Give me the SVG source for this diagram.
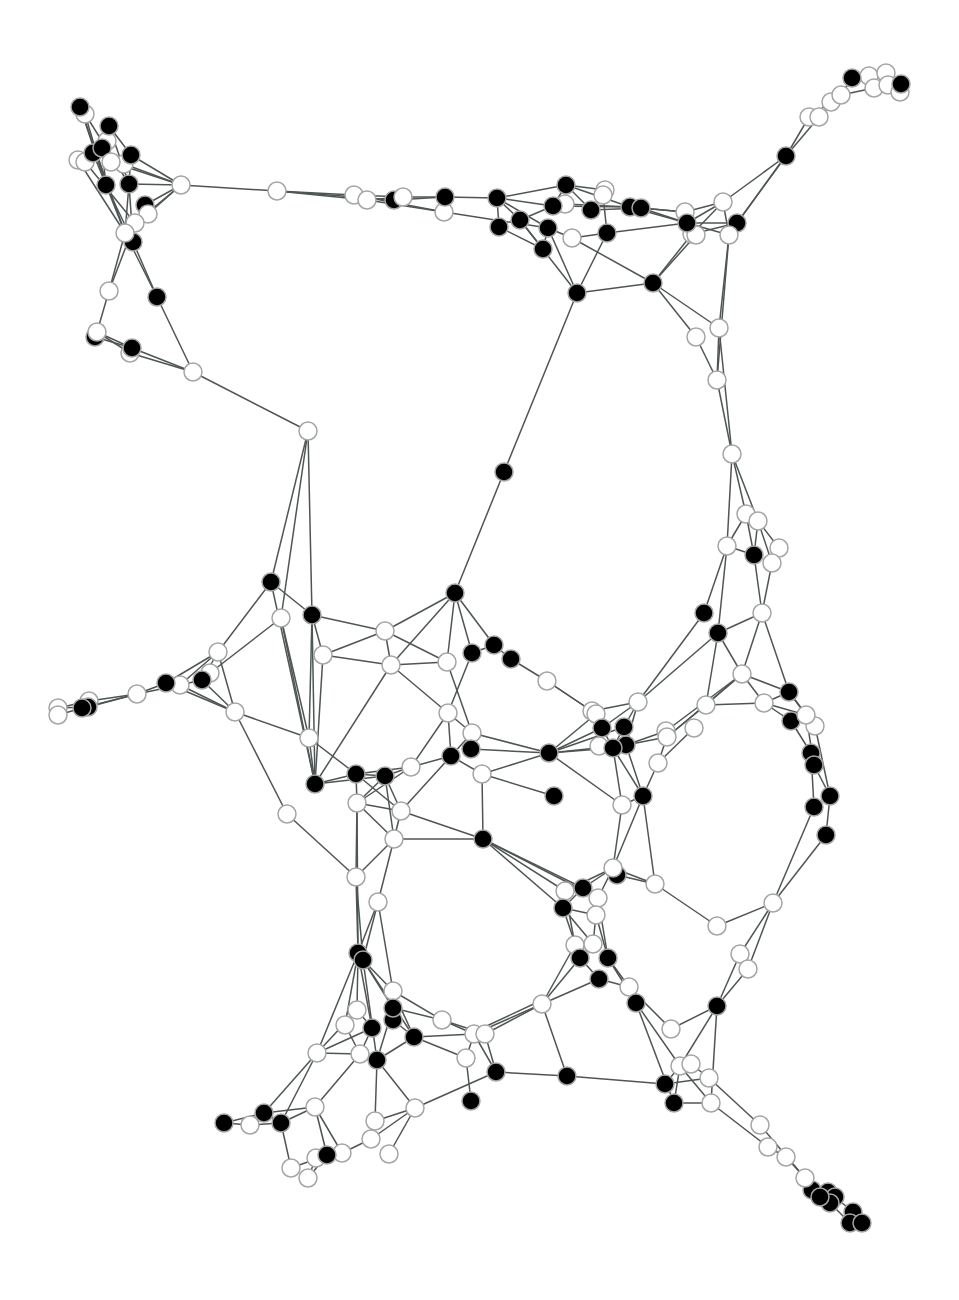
<svg xmlns="http://www.w3.org/2000/svg" width="959" height="1300" viewBox="0 0 959 1300">
<style>
.e path{stroke:#4f5555;stroke-width:1.5;fill:none}
.w circle{fill:#fff;stroke:#a5a5a5;stroke-width:1.5}
.b circle{fill:#000;stroke:#a5a5a5;stroke-width:1.5}
</style>
<rect width="959" height="1300" fill="#fff"/>
<g id="edges" class="e">
<path d="M80 107L106 185"/><path d="M80 107L125 233"/><path d="M85 114L106 185"/><path d="M85 114L129 184"/>
<path d="M109 126L131 155"/><path d="M109 126L129 184"/><path d="M109 126L107 141"/><path d="M93 153L106 185"/>
<path d="M102 148L106 185"/><path d="M78 160L125 233"/><path d="M85 162L135 223"/><path d="M131 155L181 185"/>
<path d="M124 164L181 185"/><path d="M111 162L181 185"/><path d="M129 184L181 185"/><path d="M181 185L145 205"/>
<path d="M181 185L148 214"/><path d="M181 185L135 223"/><path d="M181 185L277 191"/><path d="M277 191L354 195"/>
<path d="M277 191L367 200"/><path d="M277 191L394 200"/><path d="M106 185L133 242"/><path d="M106 185L125 233"/>
<path d="M129 184L125 233"/><path d="M129 184L133 242"/><path d="M131 155L129 184"/><path d="M125 233L109 291"/>
<path d="M135 223L109 291"/><path d="M133 242L157 297"/><path d="M125 233L157 297"/><path d="M109 291L97 332"/>
<path d="M97 332L132 348"/><path d="M95 337L132 348"/><path d="M97 332L130 353"/><path d="M132 348L193 372"/>
<path d="M130 353L193 372"/><path d="M157 297L193 372"/><path d="M193 372L308 431"/>
<path d="M354 195L403 197"/><path d="M367 200L403 197"/><path d="M403 197L445 197"/><path d="M394 200L445 197"/>
<path d="M445 197L497 198"/><path d="M354 195L444 212"/><path d="M367 200L444 212"/><path d="M444 212L548 228"/>
<path d="M497 198L566 185"/><path d="M497 198L499 227"/><path d="M497 198L520 220"/><path d="M497 198L548 228"/>
<path d="M497 198L553 206"/><path d="M499 227L543 249"/><path d="M520 220L543 249"/><path d="M520 220L553 206"/>
<path d="M520 220L577 293"/><path d="M548 228L577 293"/><path d="M548 228L572 238"/><path d="M566 185L591 210"/>
<path d="M566 185L605 190"/><path d="M566 185L630 207"/><path d="M566 185L553 206"/><path d="M565 204L630 207"/>
<path d="M553 206L630 207"/><path d="M591 210L605 190"/><path d="M591 210L641 208"/><path d="M607 233L603 195"/>
<path d="M607 233L572 238"/><path d="M607 233L577 293"/><path d="M572 238L653 283"/><path d="M577 293L653 283"/>
<path d="M607 233L687 223"/><path d="M630 207L687 223"/><path d="M641 208L685 212"/><path d="M641 208L687 223"/>
<path d="M630 207L685 212"/><path d="M543 249L548 228"/>
<path d="M685 212L723 202"/><path d="M687 223L723 202"/><path d="M692 234L723 202"/><path d="M723 202L729 235"/>
<path d="M723 202L786 156"/><path d="M737 223L786 156"/><path d="M735 226L784 158"/><path d="M687 223L737 223"/>
<path d="M687 223L729 235"/><path d="M692 234L737 223"/><path d="M692 234L653 283"/><path d="M696 235L653 283"/>
<path d="M729 235L719 328"/><path d="M729 235L717 380"/><path d="M786 156L809 117"/><path d="M786 156L819 117"/>
<path d="M809 117L831 102"/><path d="M819 117L841 95"/><path d="M831 102L841 95"/><path d="M841 95L852 78"/>
<path d="M841 95L874 88"/><path d="M852 78L869 76"/><path d="M869 76L886 73"/><path d="M886 73L888 85"/>
<path d="M874 88L901 84"/><path d="M888 85L901 84"/><path d="M900 92L901 84"/><path d="M874 88L888 85"/>
<path d="M653 283L719 328"/><path d="M653 283L696 337"/><path d="M719 328L717 380"/><path d="M696 337L717 380"/>
<path d="M719 328L732 454"/><path d="M717 380L732 454"/><path d="M732 454L746 514"/><path d="M732 454L758 521"/>
<path d="M732 454L727 546"/><path d="M746 514L727 546"/><path d="M746 514L754 555"/><path d="M758 521L754 555"/>
<path d="M758 521L779 548"/><path d="M758 521L772 563"/><path d="M727 546L754 555"/><path d="M727 546L704 613"/>
<path d="M727 546L718 633"/><path d="M754 555L762 613"/><path d="M772 563L762 613"/><path d="M779 548L772 563"/>
<path d="M762 613L718 633"/><path d="M762 613L742 674"/><path d="M762 613L789 692"/><path d="M718 633L742 674"/>
<path d="M704 613L638 702"/><path d="M718 633L638 702"/><path d="M718 633L706 705"/><path d="M577 293L504 472"/>
<path d="M504 472L455 593"/>
<path d="M455 593L385 631"/><path d="M455 593L391 665"/><path d="M455 593L447 662"/><path d="M455 593L472 653"/>
<path d="M455 593L494 645"/><path d="M312 615L385 631"/><path d="M323 655L385 631"/><path d="M385 631L447 662"/>
<path d="M385 631L391 665"/><path d="M271 582L312 615"/><path d="M271 582L218 652"/><path d="M271 582L315 784"/>
<path d="M308 431L271 582"/><path d="M308 431L281 618"/><path d="M308 431L312 615"/><path d="M281 618L210 673"/>
<path d="M281 618L309 738"/><path d="M281 618L315 784"/><path d="M312 615L315 784"/><path d="M312 615L309 738"/>
<path d="M312 615L323 655"/><path d="M323 655L391 665"/><path d="M323 655L315 784"/><path d="M218 652L166 683"/>
<path d="M218 652L180 685"/><path d="M218 652L235 712"/><path d="M218 652L202 680"/><path d="M202 680L180 685"/>
<path d="M210 673L202 680"/><path d="M166 683L180 685"/><path d="M166 683L137 694"/><path d="M180 685L137 694"/>
<path d="M137 694L88 707"/><path d="M137 694L89 701"/><path d="M137 694L82 708"/><path d="M88 707L58 708"/>
<path d="M82 708L58 715"/><path d="M89 701L58 708"/><path d="M235 712L202 680"/><path d="M235 712L180 685"/>
<path d="M235 712L166 683"/><path d="M235 712L309 738"/><path d="M235 712L287 814"/><path d="M309 738L315 784"/>
<path d="M309 738L356 774"/><path d="M315 784L356 774"/><path d="M315 784L385 776"/><path d="M315 784L391 665"/>
<path d="M287 814L356 877"/><path d="M391 665L447 662"/><path d="M391 665L448 713"/><path d="M447 662L472 733"/>
<path d="M472 653L448 713"/><path d="M472 653L494 645"/><path d="M494 645L511 659"/><path d="M511 659L547 681"/>
<path d="M547 681L596 714"/><path d="M547 681L592 711"/><path d="M448 713L472 733"/><path d="M448 713L451 756"/>
<path d="M448 713L411 767"/><path d="M472 733L549 753"/><path d="M472 733L451 756"/><path d="M471 749L549 753"/>
<path d="M471 749L472 733"/><path d="M451 756L411 767"/><path d="M451 756L482 774"/><path d="M451 756L401 811"/>
<path d="M411 767L356 774"/><path d="M411 767L357 803"/><path d="M411 767L385 776"/><path d="M356 774L385 776"/>
<path d="M356 774L357 803"/><path d="M356 774L401 811"/><path d="M385 776L401 811"/><path d="M385 776L394 839"/>
<path d="M385 776L357 803"/><path d="M482 774L549 753"/><path d="M482 774L554 796"/><path d="M482 774L483 839"/>
<path d="M549 753L596 714"/><path d="M549 753L602 728"/><path d="M549 753L624 727"/><path d="M549 753L613 748"/>
<path d="M549 753L626 745"/><path d="M549 753L622 805"/><path d="M357 803L401 811"/><path d="M357 803L394 839"/>
<path d="M357 803L356 877"/><path d="M401 811L394 839"/><path d="M401 811L483 839"/><path d="M394 839L483 839"/>
<path d="M394 839L356 877"/><path d="M394 839L378 902"/><path d="M483 839L565 891"/><path d="M483 839L563 908"/>
<path d="M483 839L583 888"/><path d="M483 839L598 898"/><path d="M356 877L358 953"/><path d="M378 902L358 953"/>
<path d="M378 902L363 960"/><path d="M356 877L363 960"/><path d="M357 803L358 953"/>
<path d="M622 805L613 868"/><path d="M622 805L643 796"/><path d="M622 805L613 748"/><path d="M613 868L565 891"/>
<path d="M613 868L583 888"/><path d="M613 868L655 884"/><path d="M617 875L655 884"/><path d="M613 868L598 898"/>
<path d="M583 888L598 898"/><path d="M565 891L563 908"/><path d="M583 888L563 908"/><path d="M563 908L596 915"/>
<path d="M598 898L596 915"/><path d="M638 702L602 728"/><path d="M638 702L624 727"/><path d="M638 702L592 711"/>
<path d="M638 702L626 745"/><path d="M706 705L742 674"/><path d="M706 705L764 703"/><path d="M742 674L789 692"/>
<path d="M742 674L764 703"/><path d="M742 674L667 737"/><path d="M742 674L666 731"/><path d="M789 692L764 703"/>
<path d="M789 692L806 715"/><path d="M764 703L791 721"/><path d="M764 703L806 715"/><path d="M791 721L811 753"/>
<path d="M806 715L814 765"/><path d="M815 726L830 796"/><path d="M789 692L815 726"/><path d="M811 753L814 807"/>
<path d="M814 765L830 796"/><path d="M830 796L826 835"/><path d="M814 807L773 903"/><path d="M826 835L773 903"/>
<path d="M773 903L717 926"/><path d="M773 903L740 954"/><path d="M773 903L748 969"/><path d="M717 926L655 884"/>
<path d="M643 796L655 884"/><path d="M643 796L658 763"/><path d="M643 796L613 868"/><path d="M658 763L667 737"/>
<path d="M658 763L694 728"/><path d="M667 737L706 705"/><path d="M666 731L626 745"/><path d="M667 737L626 745"/>
<path d="M624 727L613 748"/><path d="M602 728L613 748"/><path d="M626 745L643 796"/><path d="M613 748L643 796"/>
<path d="M358 953L357 1010"/><path d="M358 953L345 1025"/><path d="M358 953L317 1053"/><path d="M358 953L372 1028"/>
<path d="M363 960L377 1060"/><path d="M363 960L414 1037"/><path d="M363 960L393 991"/><path d="M363 960L393 1008"/>
<path d="M378 902L393 991"/><path d="M393 991L442 1020"/><path d="M393 991L414 1037"/><path d="M393 1008L442 1020"/>
<path d="M393 1008L377 1060"/><path d="M393 1020L414 1037"/><path d="M357 1010L317 1053"/><path d="M345 1025L360 1054"/>
<path d="M372 1028L317 1053"/><path d="M372 1028L360 1054"/><path d="M357 1010L372 1028"/><path d="M414 1037L474 1034"/>
<path d="M414 1037L466 1058"/><path d="M414 1037L377 1060"/><path d="M442 1020L474 1034"/><path d="M442 1020L485 1034"/>
<path d="M317 1053L360 1054"/><path d="M317 1053L264 1113"/><path d="M317 1053L281 1123"/><path d="M360 1054L377 1060"/>
<path d="M360 1054L315 1107"/><path d="M377 1060L375 1121"/><path d="M377 1060L415 1108"/><path d="M466 1058L471 1101"/>
<path d="M466 1058L474 1034"/><path d="M415 1108L496 1072"/><path d="M415 1108L375 1121"/><path d="M415 1108L371 1139"/>
<path d="M415 1108L389 1154"/><path d="M375 1121L371 1139"/><path d="M371 1139L342 1153"/><path d="M315 1107L281 1123"/>
<path d="M315 1107L264 1113"/><path d="M315 1107L327 1155"/><path d="M315 1107L342 1153"/><path d="M264 1113L224 1123"/>
<path d="M224 1123L250 1125"/><path d="M250 1125L281 1123"/><path d="M264 1113L281 1123"/><path d="M281 1123L291 1168"/>
<path d="M327 1155L291 1168"/><path d="M327 1155L308 1178"/><path d="M327 1155L342 1153"/><path d="M316 1158L308 1178"/>
<path d="M496 1072L485 1034"/><path d="M496 1072L474 1034"/><path d="M496 1072L567 1076"/><path d="M567 1076L665 1084"/>
<path d="M542 1004L474 1034"/><path d="M542 1004L485 1034"/><path d="M540 1001L476 1031"/><path d="M542 1004L567 1076"/>
<path d="M542 1004L599 979"/><path d="M542 1004L580 958"/><path d="M542 1004L575 945"/><path d="M565 891L575 945"/>
<path d="M563 908L593 944"/><path d="M563 908L580 958"/><path d="M598 898L608 958"/><path d="M596 915L593 944"/>
<path d="M596 915L608 958"/><path d="M580 958L599 979"/><path d="M608 958L636 1003"/><path d="M599 979L629 987"/>
<path d="M608 958L629 987"/><path d="M629 987L636 1003"/><path d="M636 1003L674 1103"/><path d="M636 1003L680 1066"/>
<path d="M629 987L671 1029"/><path d="M671 1029L717 1006"/><path d="M717 1006L680 1066"/><path d="M717 1006L740 954"/>
<path d="M717 1006L748 969"/><path d="M740 954L748 969"/><path d="M717 1006L711 1103"/><path d="M680 1066L711 1103"/>
<path d="M691 1064L709 1078"/><path d="M674 1103L711 1103"/><path d="M674 1103L680 1066"/><path d="M665 1084L709 1078"/>
<path d="M665 1084L680 1066"/><path d="M709 1078L760 1125"/><path d="M760 1125L805 1178"/><path d="M711 1103L768 1147"/>
<path d="M768 1147L786 1157"/><path d="M786 1157L805 1178"/><path d="M805 1178L812 1190"/><path d="M812 1190L828 1192"/>
<path d="M828 1192L835 1197"/><path d="M835 1197L853 1212"/><path d="M820 1197L830 1203"/><path d="M830 1203L850 1223"/>
<path d="M853 1212L862 1223"/><path d="M850 1223L862 1223"/><path d="M805 1178L820 1197"/>
</g>
<g id="nodes">
<g id="n1" class="w"><circle cx="85" cy="114" r="9"/></g>
<g id="n2" class="b"><circle cx="80" cy="107" r="9"/></g>
<g id="n4" class="w"><circle cx="107" cy="141" r="9"/></g>
<g id="n3" class="b"><circle cx="109" cy="126" r="9"/></g>
<g id="n5" class="w"><circle cx="78" cy="160" r="9"/></g>
<g id="n6" class="w"><circle cx="85" cy="162" r="9"/></g>
<g id="n7" class="b"><circle cx="93" cy="153" r="9"/></g>
<g id="n8" class="b"><circle cx="102" cy="148" r="9"/></g>
<g id="n10" class="w"><circle cx="124" cy="164" r="9"/></g>
<g id="n9" class="w"><circle cx="111" cy="162" r="9"/></g>
<g id="n11" class="b"><circle cx="131" cy="155" r="9"/></g>
<g id="n12" class="b"><circle cx="106" cy="185" r="9"/></g>
<g id="n13" class="b"><circle cx="129" cy="184" r="9"/></g>
<g id="n14" class="w"><circle cx="181" cy="185" r="9"/></g>
<g id="n15" class="w"><circle cx="277" cy="191" r="9"/></g>
<g id="n16" class="b"><circle cx="145" cy="205" r="9"/></g>
<g id="n17" class="w"><circle cx="148" cy="214" r="9"/></g>
<g id="n19" class="b"><circle cx="133" cy="242" r="9"/></g>
<g id="n18" class="w"><circle cx="135" cy="223" r="9"/></g>
<g id="n20" class="w"><circle cx="125" cy="233" r="9"/></g>
<g id="n21" class="w"><circle cx="109" cy="291" r="9"/></g>
<g id="n22" class="b"><circle cx="157" cy="297" r="9"/></g>
<g id="n23" class="b"><circle cx="95" cy="337" r="9"/></g>
<g id="n24" class="w"><circle cx="97" cy="332" r="9"/></g>
<g id="n25" class="w"><circle cx="130" cy="353" r="9"/></g>
<g id="n26" class="b"><circle cx="132" cy="348" r="9"/></g>
<g id="n27" class="w"><circle cx="193" cy="372" r="9"/></g>
<g id="n28" class="w"><circle cx="308" cy="431" r="9"/></g>
<g id="n29" class="w"><circle cx="354" cy="195" r="9"/></g>
<g id="n30" class="w"><circle cx="367" cy="200" r="9"/></g>
<g id="n31" class="b"><circle cx="394" cy="200" r="9"/></g>
<g id="n32" class="w"><circle cx="403" cy="197" r="9"/></g>
<g id="n34" class="w"><circle cx="444" cy="212" r="9"/></g>
<g id="n33" class="b"><circle cx="445" cy="197" r="9"/></g>
<g id="n35" class="b"><circle cx="497" cy="198" r="9"/></g>
<g id="n36" class="b"><circle cx="499" cy="227" r="9"/></g>
<g id="n37" class="b"><circle cx="566" cy="185" r="9"/></g>
<g id="n38" class="b"><circle cx="520" cy="220" r="9"/></g>
<g id="n39" class="w"><circle cx="565" cy="204" r="9"/></g>
<g id="n40" class="b"><circle cx="553" cy="206" r="9"/></g>
<g id="n42" class="w"><circle cx="572" cy="238" r="9"/></g>
<g id="n41" class="b"><circle cx="548" cy="228" r="9"/></g>
<g id="n43" class="b"><circle cx="543" cy="249" r="9"/></g>
<g id="n44" class="w"><circle cx="605" cy="190" r="9"/></g>
<g id="n45" class="w"><circle cx="603" cy="195" r="9"/></g>
<g id="n46" class="b"><circle cx="591" cy="210" r="9"/></g>
<g id="n47" class="b"><circle cx="630" cy="207" r="9"/></g>
<g id="n48" class="b"><circle cx="641" cy="208" r="9"/></g>
<g id="n49" class="b"><circle cx="607" cy="233" r="9"/></g>
<g id="n50" class="b"><circle cx="577" cy="293" r="9"/></g>
<g id="n51" class="w"><circle cx="685" cy="212" r="9"/></g>
<g id="n53" class="w"><circle cx="692" cy="234" r="9"/></g>
<g id="n54" class="w"><circle cx="696" cy="235" r="9"/></g>
<g id="n52" class="b"><circle cx="687" cy="223" r="9"/></g>
<g id="n55" class="w"><circle cx="723" cy="202" r="9"/></g>
<g id="n56" class="b"><circle cx="737" cy="223" r="9"/></g>
<g id="n57" class="w"><circle cx="729" cy="235" r="9"/></g>
<g id="n58" class="b"><circle cx="786" cy="156" r="9"/></g>
<g id="n59" class="w"><circle cx="809" cy="117" r="9"/></g>
<g id="n60" class="w"><circle cx="819" cy="117" r="9"/></g>
<g id="n61" class="w"><circle cx="831" cy="102" r="9"/></g>
<g id="n62" class="w"><circle cx="841" cy="95" r="9"/></g>
<g id="n64" class="w"><circle cx="869" cy="76" r="9"/></g>
<g id="n65" class="w"><circle cx="886" cy="73" r="9"/></g>
<g id="n63" class="b"><circle cx="852" cy="78" r="9"/></g>
<g id="n66" class="w"><circle cx="874" cy="88" r="9"/></g>
<g id="n67" class="w"><circle cx="888" cy="85" r="9"/></g>
<g id="n68" class="w"><circle cx="900" cy="92" r="9"/></g>
<g id="n69" class="b"><circle cx="901" cy="84" r="9"/></g>
<g id="n70" class="b"><circle cx="653" cy="283" r="9"/></g>
<g id="n71" class="w"><circle cx="719" cy="328" r="9"/></g>
<g id="n72" class="w"><circle cx="696" cy="337" r="9"/></g>
<g id="n73" class="w"><circle cx="717" cy="380" r="9"/></g>
<g id="n74" class="w"><circle cx="732" cy="454" r="9"/></g>
<g id="n75" class="w"><circle cx="746" cy="514" r="9"/></g>
<g id="n76" class="w"><circle cx="758" cy="521" r="9"/></g>
<g id="n77" class="w"><circle cx="727" cy="546" r="9"/></g>
<g id="n79" class="w"><circle cx="779" cy="548" r="9"/></g>
<g id="n80" class="w"><circle cx="772" cy="563" r="9"/></g>
<g id="n78" class="b"><circle cx="754" cy="555" r="9"/></g>
<g id="n81" class="w"><circle cx="762" cy="613" r="9"/></g>
<g id="n82" class="b"><circle cx="704" cy="613" r="9"/></g>
<g id="n83" class="b"><circle cx="718" cy="633" r="9"/></g>
<g id="n84" class="b"><circle cx="504" cy="472" r="9"/></g>
<g id="n85" class="b"><circle cx="455" cy="593" r="9"/></g>
<g id="n86" class="b"><circle cx="271" cy="582" r="9"/></g>
<g id="n87" class="w"><circle cx="281" cy="618" r="9"/></g>
<g id="n88" class="b"><circle cx="312" cy="615" r="9"/></g>
<g id="n89" class="w"><circle cx="218" cy="652" r="9"/></g>
<g id="n90" class="w"><circle cx="210" cy="673" r="9"/></g>
<g id="n91" class="b"><circle cx="202" cy="680" r="9"/></g>
<g id="n93" class="w"><circle cx="180" cy="685" r="9"/></g>
<g id="n92" class="b"><circle cx="166" cy="683" r="9"/></g>
<g id="n94" class="w"><circle cx="137" cy="694" r="9"/></g>
<g id="n95" class="w"><circle cx="89" cy="701" r="9"/></g>
<g id="n98" class="w"><circle cx="58" cy="708" r="9"/></g>
<g id="n99" class="w"><circle cx="58" cy="715" r="9"/></g>
<g id="n96" class="b"><circle cx="88" cy="707" r="9"/></g>
<g id="n97" class="b"><circle cx="82" cy="708" r="9"/></g>
<g id="n100" class="w"><circle cx="235" cy="712" r="9"/></g>
<g id="n101" class="w"><circle cx="309" cy="738" r="9"/></g>
<g id="n102" class="b"><circle cx="315" cy="784" r="9"/></g>
<g id="n103" class="w"><circle cx="287" cy="814" r="9"/></g>
<g id="n104" class="w"><circle cx="323" cy="655" r="9"/></g>
<g id="n105" class="w"><circle cx="385" cy="631" r="9"/></g>
<g id="n106" class="w"><circle cx="391" cy="665" r="9"/></g>
<g id="n107" class="w"><circle cx="447" cy="662" r="9"/></g>
<g id="n108" class="b"><circle cx="472" cy="653" r="9"/></g>
<g id="n109" class="b"><circle cx="494" cy="645" r="9"/></g>
<g id="n110" class="b"><circle cx="511" cy="659" r="9"/></g>
<g id="n111" class="w"><circle cx="547" cy="681" r="9"/></g>
<g id="n112" class="w"><circle cx="448" cy="713" r="9"/></g>
<g id="n113" class="w"><circle cx="472" cy="733" r="9"/></g>
<g id="n114" class="b"><circle cx="471" cy="749" r="9"/></g>
<g id="n115" class="b"><circle cx="451" cy="756" r="9"/></g>
<g id="n116" class="w"><circle cx="411" cy="767" r="9"/></g>
<g id="n117" class="b"><circle cx="356" cy="774" r="9"/></g>
<g id="n118" class="b"><circle cx="385" cy="776" r="9"/></g>
<g id="n119" class="w"><circle cx="482" cy="774" r="9"/></g>
<g id="n120" class="b"><circle cx="549" cy="753" r="9"/></g>
<g id="n121" class="b"><circle cx="554" cy="796" r="9"/></g>
<g id="n122" class="w"><circle cx="357" cy="803" r="9"/></g>
<g id="n123" class="w"><circle cx="401" cy="811" r="9"/></g>
<g id="n124" class="w"><circle cx="394" cy="839" r="9"/></g>
<g id="n125" class="b"><circle cx="483" cy="839" r="9"/></g>
<g id="n126" class="w"><circle cx="356" cy="877" r="9"/></g>
<g id="n127" class="w"><circle cx="378" cy="902" r="9"/></g>
<g id="n128" class="w"><circle cx="622" cy="805" r="9"/></g>
<g id="n129" class="b"><circle cx="617" cy="875" r="9"/></g>
<g id="n130" class="w"><circle cx="613" cy="868" r="9"/></g>
<g id="n131" class="w"><circle cx="565" cy="891" r="9"/></g>
<g id="n132" class="b"><circle cx="583" cy="888" r="9"/></g>
<g id="n134" class="w"><circle cx="598" cy="898" r="9"/></g>
<g id="n133" class="b"><circle cx="563" cy="908" r="9"/></g>
<g id="n135" class="w"><circle cx="596" cy="915" r="9"/></g>
<g id="n136" class="w"><circle cx="592" cy="711" r="9"/></g>
<g id="n137" class="w"><circle cx="596" cy="714" r="9"/></g>
<g id="n142" class="w"><circle cx="599" cy="746" r="9"/></g>
<g id="n138" class="b"><circle cx="602" cy="728" r="9"/></g>
<g id="n139" class="b"><circle cx="624" cy="727" r="9"/></g>
<g id="n140" class="b"><circle cx="626" cy="745" r="9"/></g>
<g id="n141" class="b"><circle cx="613" cy="748" r="9"/></g>
<g id="n143" class="w"><circle cx="638" cy="702" r="9"/></g>
<g id="n144" class="w"><circle cx="706" cy="705" r="9"/></g>
<g id="n145" class="w"><circle cx="742" cy="674" r="9"/></g>
<g id="n146" class="b"><circle cx="789" cy="692" r="9"/></g>
<g id="n147" class="w"><circle cx="764" cy="703" r="9"/></g>
<g id="n148" class="b"><circle cx="791" cy="721" r="9"/></g>
<g id="n150" class="w"><circle cx="815" cy="726" r="9"/></g>
<g id="n149" class="w"><circle cx="806" cy="715" r="9"/></g>
<g id="n151" class="b"><circle cx="811" cy="753" r="9"/></g>
<g id="n152" class="b"><circle cx="814" cy="765" r="9"/></g>
<g id="n153" class="b"><circle cx="830" cy="796" r="9"/></g>
<g id="n154" class="b"><circle cx="814" cy="807" r="9"/></g>
<g id="n155" class="b"><circle cx="826" cy="835" r="9"/></g>
<g id="n156" class="w"><circle cx="773" cy="903" r="9"/></g>
<g id="n157" class="w"><circle cx="717" cy="926" r="9"/></g>
<g id="n158" class="w"><circle cx="694" cy="728" r="9"/></g>
<g id="n159" class="w"><circle cx="666" cy="731" r="9"/></g>
<g id="n160" class="w"><circle cx="667" cy="737" r="9"/></g>
<g id="n161" class="w"><circle cx="658" cy="763" r="9"/></g>
<g id="n162" class="b"><circle cx="643" cy="796" r="9"/></g>
<g id="n163" class="w"><circle cx="655" cy="884" r="9"/></g>
<g id="n164" class="b"><circle cx="358" cy="953" r="9"/></g>
<g id="n165" class="b"><circle cx="363" cy="960" r="9"/></g>
<g id="n166" class="w"><circle cx="393" cy="991" r="9"/></g>
<g id="n169" class="w"><circle cx="357" cy="1010" r="9"/></g>
<g id="n170" class="w"><circle cx="345" cy="1025" r="9"/></g>
<g id="n168" class="b"><circle cx="393" cy="1020" r="9"/></g>
<g id="n167" class="b"><circle cx="393" cy="1008" r="9"/></g>
<g id="n171" class="b"><circle cx="372" cy="1028" r="9"/></g>
<g id="n172" class="b"><circle cx="414" cy="1037" r="9"/></g>
<g id="n173" class="w"><circle cx="442" cy="1020" r="9"/></g>
<g id="n174" class="w"><circle cx="474" cy="1034" r="9"/></g>
<g id="n175" class="w"><circle cx="485" cy="1034" r="9"/></g>
<g id="n176" class="w"><circle cx="317" cy="1053" r="9"/></g>
<g id="n177" class="w"><circle cx="360" cy="1054" r="9"/></g>
<g id="n178" class="b"><circle cx="377" cy="1060" r="9"/></g>
<g id="n179" class="w"><circle cx="466" cy="1058" r="9"/></g>
<g id="n180" class="b"><circle cx="471" cy="1101" r="9"/></g>
<g id="n181" class="w"><circle cx="315" cy="1107" r="9"/></g>
<g id="n182" class="w"><circle cx="415" cy="1108" r="9"/></g>
<g id="n183" class="b"><circle cx="264" cy="1113" r="9"/></g>
<g id="n184" class="b"><circle cx="224" cy="1123" r="9"/></g>
<g id="n185" class="w"><circle cx="250" cy="1125" r="9"/></g>
<g id="n186" class="b"><circle cx="281" cy="1123" r="9"/></g>
<g id="n187" class="w"><circle cx="375" cy="1121" r="9"/></g>
<g id="n188" class="w"><circle cx="371" cy="1139" r="9"/></g>
<g id="n189" class="w"><circle cx="389" cy="1154" r="9"/></g>
<g id="n190" class="w"><circle cx="342" cy="1153" r="9"/></g>
<g id="n191" class="w"><circle cx="316" cy="1158" r="9"/></g>
<g id="n192" class="b"><circle cx="327" cy="1155" r="9"/></g>
<g id="n193" class="w"><circle cx="291" cy="1168" r="9"/></g>
<g id="n194" class="w"><circle cx="308" cy="1178" r="9"/></g>
<g id="n195" class="w"><circle cx="575" cy="945" r="9"/></g>
<g id="n196" class="w"><circle cx="593" cy="944" r="9"/></g>
<g id="n197" class="b"><circle cx="580" cy="958" r="9"/></g>
<g id="n198" class="b"><circle cx="608" cy="958" r="9"/></g>
<g id="n199" class="b"><circle cx="599" cy="979" r="9"/></g>
<g id="n200" class="w"><circle cx="629" cy="987" r="9"/></g>
<g id="n201" class="b"><circle cx="636" cy="1003" r="9"/></g>
<g id="n202" class="w"><circle cx="542" cy="1004" r="9"/></g>
<g id="n203" class="b"><circle cx="496" cy="1072" r="9"/></g>
<g id="n204" class="b"><circle cx="567" cy="1076" r="9"/></g>
<g id="n207" class="w"><circle cx="671" cy="1029" r="9"/></g>
<g id="n208" class="w"><circle cx="680" cy="1066" r="9"/></g>
<g id="n209" class="w"><circle cx="691" cy="1064" r="9"/></g>
<g id="n205" class="b"><circle cx="665" cy="1084" r="9"/></g>
<g id="n206" class="b"><circle cx="674" cy="1103" r="9"/></g>
<g id="n210" class="w"><circle cx="709" cy="1078" r="9"/></g>
<g id="n211" class="w"><circle cx="711" cy="1103" r="9"/></g>
<g id="n212" class="b"><circle cx="717" cy="1006" r="9"/></g>
<g id="n213" class="w"><circle cx="740" cy="954" r="9"/></g>
<g id="n214" class="w"><circle cx="748" cy="969" r="9"/></g>
<g id="n215" class="w"><circle cx="760" cy="1125" r="9"/></g>
<g id="n216" class="w"><circle cx="768" cy="1147" r="9"/></g>
<g id="n217" class="w"><circle cx="786" cy="1157" r="9"/></g>
<g id="n219" class="b"><circle cx="812" cy="1190" r="9"/></g>
<g id="n220" class="b"><circle cx="828" cy="1192" r="9"/></g>
<g id="n221" class="b"><circle cx="835" cy="1197" r="9"/></g>
<g id="n223" class="b"><circle cx="830" cy="1203" r="9"/></g>
<g id="n222" class="b"><circle cx="820" cy="1197" r="9"/></g>
<g id="n218" class="w"><circle cx="805" cy="1178" r="9"/></g>
<g id="n224" class="b"><circle cx="853" cy="1212" r="9"/></g>
<g id="n225" class="b"><circle cx="850" cy="1223" r="9"/></g>
<g id="n226" class="b"><circle cx="862" cy="1223" r="9"/></g>
</g>
</svg>
